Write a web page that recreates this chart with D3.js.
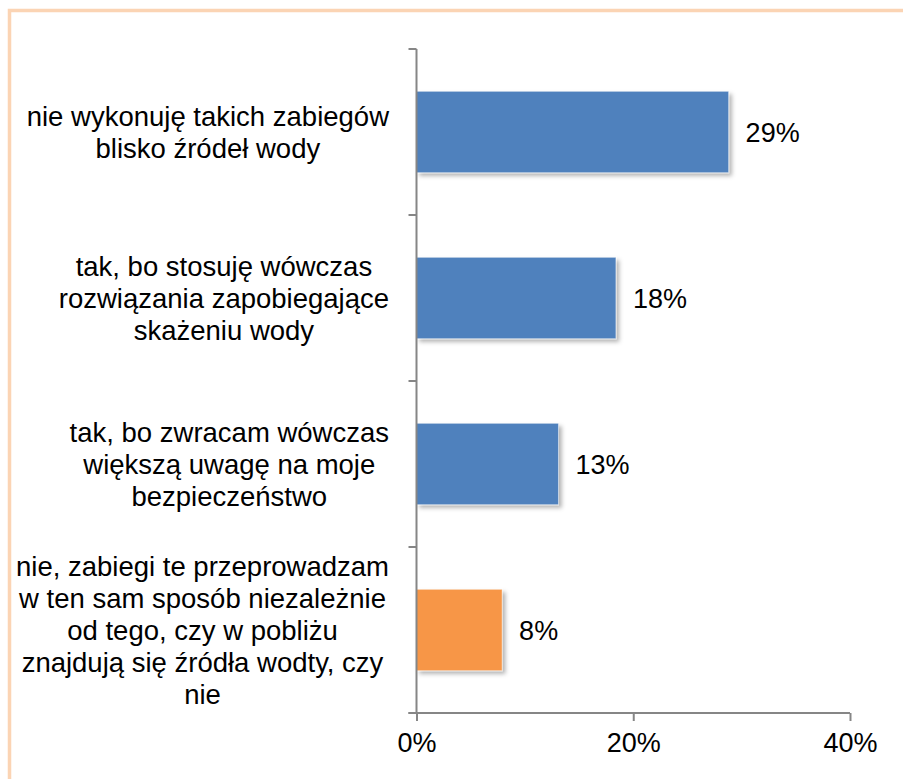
<!DOCTYPE html>
<html>
<head>
<meta charset="utf-8">
<script src="https://cdn.jsdelivr.net/npm/d3@7"></script>
<style>
  body { margin: 0; background: #fff; }
  svg text { font-family: "Liberation Sans", Arial, sans-serif; fill: #000; }
</style>
</head>
<body>
<script>
// data
var categories = [
  ["nie wykonuję takich zabiegów", "blisko źródeł wody"],
  ["tak, bo stosuję wówczas", "rozwiązania zapobiegające", "skażeniu wody"],
  ["tak, bo zwracam wówczas", "większą uwagę na moje", "bezpieczeństwo"],
  ["nie, zabiegi te przeprowadzam", "w ten sam sposób niezależnie", "od tego, czy w pobliżu", "znajdują się źródła wodty, czy", "nie"]
];
var values = [28.8, 18.4, 13.1, 7.9];
var barColors = ["#4F81BD", "#4F81BD", "#4F81BD", "#F79646"];
var xTicks = [0, 20, 40];

var W = 903, H = 779;
var x0 = 416.5, x1 = 850, yTop = 49, yBot = 713;

var svg = d3.select("body").append("svg")
    .attr("width", W)
    .attr("height", H);

var defs = svg.append("defs");
var f = defs.append("filter").attr("id", "shadow")
    .attr("x", "-5%").attr("y", "-10%").attr("width", "115%").attr("height", "130%");
f.append("feDropShadow")
    .attr("dx", 3).attr("dy", 3).attr("stdDeviation", 2)
    .attr("flood-color", "#000").attr("flood-opacity", 0.3);

// frame
svg.append("rect")
    .attr("x", 9.5).attr("y", 10.5)
    .attr("width", 1000).attr("height", 1000)
    .attr("fill", "none")
    .attr("stroke", "#FBD4B4")
    .attr("stroke-width", 3.5);

var xScale = d3.scaleLinear().domain([0, 40]).range([x0, x1]);
var yScale = d3.scaleBand()
    .domain(d3.range(categories.length))
    .range([yTop, yBot])
    .paddingInner(0.51)
    .paddingOuter(0.255);

// bars
svg.selectAll("rect.bar")
    .data(values)
    .enter()
    .append("rect")
    .attr("class", "bar")
    .attr("x", xScale(0))
    .attr("y", (d, i) => yScale(i))
    .attr("width", d => xScale(d) - xScale(0))
    .attr("height", yScale.bandwidth())
    .attr("fill", (d, i) => barColors[i])
    .attr("stroke", "#fff")
    .attr("stroke-opacity", 0.45)
    .attr("stroke-width", 1)
    .attr("filter", "url(#shadow)");

// value labels
svg.selectAll("text.val")
    .data(values)
    .enter()
    .append("text")
    .attr("class", "val")
    .attr("x", d => xScale(d) + 17)
    .attr("y", (d, i) => yScale(i) + yScale.bandwidth() / 2 + 10)
    .style("font-size", "27px")
    .text(d => Math.round(d) + "%");

// y axis line + category ticks
var axisColor = "#868686";
svg.append("line")
    .attr("x1", x0).attr("x2", x0)
    .attr("y1", yTop).attr("y2", yBot)
    .attr("stroke", axisColor).attr("stroke-width", 2);

var bounds = d3.range(categories.length + 1).map(i => yTop + i * yScale.step());
svg.selectAll("line.ytick")
    .data(bounds)
    .enter()
    .append("line")
    .attr("class", "ytick")
    .attr("x1", x0 - 8).attr("x2", x0)
    .attr("y1", d => d).attr("y2", d => d)
    .attr("stroke", axisColor).attr("stroke-width", 2);

// x axis
var xAxis = d3.axisBottom(xScale)
    .tickValues(xTicks)
    .tickSize(8)
    .tickSizeOuter(0)
    .tickPadding(12)
    .tickFormat(d => d + "%");

var gx = svg.append("g")
    .attr("transform", "translate(0," + yBot + ")")
    .call(xAxis);
gx.select(".domain").attr("stroke", axisColor).attr("stroke-width", 2)
    .attr("d", "M" + (x0 - 8) + ",0H" + x1);
gx.selectAll(".tick line").attr("stroke", axisColor).attr("stroke-width", 2);
gx.selectAll(".tick text")
    .style("font-size", "27px")
    .style("font-family", "Liberation Sans, Arial, sans-serif")
    .attr("fill", "#000");

// category labels: centred lines, block pushed against the axis
var lineH = 32;
var labelRight = 389;
categories.forEach(function(lines, i) {
  var cy = yScale(i) + yScale.bandwidth() / 2;
  var startY = cy - (lines.length - 1) * lineH / 2 + 10;
  var t = svg.append("text")
      .attr("text-anchor", "middle")
      .style("font-size", "27.5px");
  var spans = lines.map(function(s, j) {
    return t.append("tspan")
      .attr("y", startY + j * lineH)
      .text(s);
  });
  var maxW = d3.max(spans, sp => sp.node().getComputedTextLength());
  spans.forEach(sp => sp.attr("x", labelRight - maxW / 2));
});
</script>
</body>
</html>
